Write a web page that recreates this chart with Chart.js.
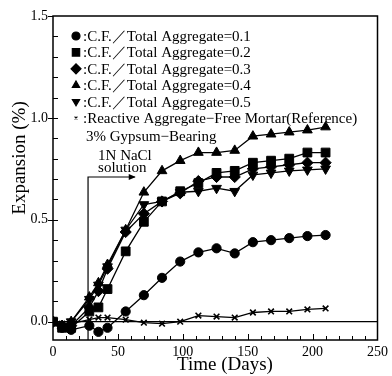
<!DOCTYPE html>
<html>
<head>
<meta charset="utf-8">
<script src="https://cdn.jsdelivr.net/npm/chart.js@4.4.0/dist/chart.umd.min.js"></script>
<style>
  html, body { margin: 0; padding: 0; background: #fff; }
  #wrap { width: 392px; height: 376px; }
</style>
</head>
<body>
<div id="wrap"><canvas id="expChart" width="392" height="376"></canvas></div>
<script>
const days = [0, 7, 14, 28, 35, 42, 56, 70, 84, 98, 112, 126, 140, 154, 168, 182, 196, 210];

const cf01 = [0, -0.03, -0.04, -0.02, -0.05, -0.03, 0.05, 0.13, 0.215, 0.295, 0.34, 0.36, 0.335, 0.39, 0.40, 0.41, 0.42, 0.425];
const cf02 = [0, -0.03, -0.03, 0.05, 0.07, 0.16, 0.345, 0.49, 0.59, 0.64, 0.68, 0.73, 0.74, 0.78, 0.79, 0.80, 0.83, 0.83];
const cf03 = [0, -0.02, -0.02, 0.07, 0.15, 0.26, 0.44, 0.53, 0.59, 0.63, 0.69, 0.71, 0.71, 0.75, 0.76, 0.77, 0.78, 0.78];
const cf04 = [0, -0.02, 0, 0.12, 0.19, 0.28, 0.45, 0.635, 0.74, 0.79, 0.83, 0.83, 0.84, 0.91, 0.92, 0.93, 0.94, 0.955];
const cf05 = [0, -0.02, 0, 0.11, 0.18, 0.27, 0.45, 0.575, 0.59, 0.635, 0.64, 0.655, 0.64, 0.72, 0.73, 0.74, 0.745, 0.75];
const refMortar = [0, -0.01, -0.01, 0.01, 0.02, 0.02, 0.01, -0.005, -0.01, 0, 0.03, 0.025, 0.02, 0.045, 0.05, 0.05, 0.06, 0.065];

const seriesLabels = [
    ':C.F.／Total Aggregate=0.1',
    ':C.F.／Total Aggregate=0.2',
    ':C.F.／Total Aggregate=0.3',
    ':C.F.／Total Aggregate=0.4',
    ':C.F.／Total Aggregate=0.5',
    ':Reactive Aggregate−Free Mortar(Reference)'
];
const noteText = '3% Gypsum−Bearing';
const naclText = ['1N NaCl', 'solution'];
const naclDay = 27;
const arrowEndDay = 63;
const arrowLevel = 0.71;

const yTicks = [0, 0.5, 1.0, 1.5];
const xTicks = [0, 50, 100, 150, 200, 250];

const serif = '"Liberation Serif", "Times New Roman", serif';

const styles = [
    { pointStyle: 'circle', radius: 4.6, rotation: 0 },
    { pointStyle: 'rect', radius: 6.2, rotation: 0 },
    { pointStyle: 'rectRot', radius: 5.6, rotation: 0 },
    { pointStyle: 'triangle', radius: 5.6, rotation: 0 },
    { pointStyle: 'triangle', radius: 5.6, rotation: 180 },
    { pointStyle: 'crossRot', radius: 4, rotation: 0 }
];
const legendRadius = [4, 5.2, 5, 4.2, 4.2, 2];

function makeSet(values, i) {
    return {
        label: seriesLabels[i],
        data: days.map((d, k) => ({ x: d, y: values[k] })),
        borderColor: '#000',
        backgroundColor: '#000',
        borderWidth: 1.3,
        pointStyle: styles[i].pointStyle,
        pointRotation: styles[i].rotation,
        pointRadius: styles[i].radius,
        pointBorderWidth: i === 5 ? 1.6 : 1,
        pointBorderColor: '#000',
        pointBackgroundColor: '#000',
        tension: 0
    };
}

const decorPlugin = {
    id: 'decor',
    afterDatasetsDraw(chart) {
        const ctx = chart.ctx;
        const a = chart.chartArea;
        const xs = chart.scales.x;
        const ys = chart.scales.y;
        ctx.save();
        ctx.strokeStyle = '#000';
        ctx.fillStyle = '#000';

        // frame
        ctx.lineWidth = 1.5;
        ctx.strokeRect(a.left, a.top, a.right - a.left, a.bottom - a.top);

        // zero line
        ctx.lineWidth = 1.2;
        const y0 = ys.getPixelForValue(0);
        ctx.beginPath();
        ctx.moveTo(a.left, y0);
        ctx.lineTo(a.right, y0);
        ctx.stroke();

        // minor ticks
        ctx.lineWidth = 1;
        for (let d = 10; d < 250; d += 10) {
            const px = Math.round(xs.getPixelForValue(d)) + 0.5;
            const len = d % 50 === 0 ? 6 : 4;
            ctx.beginPath();
            ctx.moveTo(px, a.bottom);
            ctx.lineTo(px, a.bottom - len);
            ctx.stroke();
        }
        for (let v = 0.1; v < 1.5; v += 0.1) {
            const py = Math.round(ys.getPixelForValue(v)) + 0.5;
            ctx.beginPath();
            ctx.moveTo(a.left, py);
            ctx.lineTo(a.left + 5, py);
            ctx.stroke();
        }
        yTicks.forEach(v => {
            const py = Math.round(ys.getPixelForValue(v)) + 0.5;
            ctx.beginPath();
            ctx.moveTo(a.left - 5, py);
            ctx.lineTo(a.left, py);
            ctx.stroke();
        });

        // NaCl marker line and arrow
        const xn = xs.getPixelForValue(naclDay);
        const ya = ys.getPixelForValue(arrowLevel);
        const xe = xs.getPixelForValue(arrowEndDay);
        ctx.lineWidth = 1.2;
        ctx.beginPath();
        ctx.moveTo(xn, a.bottom);
        ctx.lineTo(xn, ya);
        ctx.lineTo(xe, ya);
        ctx.stroke();
        ctx.beginPath();
        ctx.moveTo(xe + 1, ya);
        ctx.lineTo(xe - 6, ya - 3);
        ctx.lineTo(xe - 6, ya + 3);
        ctx.closePath();
        ctx.fill();

        ctx.font = '15px ' + serif;
        ctx.textAlign = 'left';
        ctx.textBaseline = 'alphabetic';
        ctx.fillText(naclText[0], xn + 10, ya - 17);
        ctx.fillText(naclText[1], xn + 10, ya - 5);

        // legend
        ctx.textBaseline = 'middle';
        ctx.font = '15px ' + serif;
        for (let i = 0; i < seriesLabels.length; i++) {
            const cy = a.top + 20 + i * 16.4;
            Chart.helpers.drawPoint(ctx, {
                pointStyle: styles[i].pointStyle,
                rotation: styles[i].rotation,
                radius: legendRadius[i],
                borderWidth: 1
            }, a.left + 23, cy);
            ctx.fillText(seriesLabels[i], a.left + 30, cy + 1);
        }
        ctx.fillText(noteText, a.left + 33, a.top + 121);

        // axis titles
        ctx.font = '19px ' + serif;
        ctx.textAlign = 'center';
        ctx.fillText('Time (Days)', 225, 365);
        ctx.translate(20, 158);
        ctx.rotate(-Math.PI / 2);
        ctx.fillText('Expansion (%)', 0, 0);
        ctx.restore();
    }
};

document.addEventListener('DOMContentLoaded', () => {
    const ctx = document.getElementById('expChart').getContext('2d');
    new Chart(ctx, {
        type: 'line',
        data: {
            datasets: [cf01, cf02, cf03, cf04, cf05, refMortar].map(makeSet)
        },
        options: {
            responsive: false,
            animation: false,
            layout: { padding: { top: 16, right: 13, left: 0, bottom: 0 } },
            plugins: {
                legend: { display: false },
                tooltip: { enabled: false }
            },
            scales: {
                x: {
                    type: 'linear',
                    min: 0,
                    max: 250,
                    afterBuildTicks: s => { s.ticks = xTicks.map(v => ({ value: v })); },
                    afterFit: s => { s.height = 36; },
                    grid: { display: false, drawTicks: false },
                    border: { display: false },
                    ticks: {
                        color: '#000',
                        padding: 4,
                        maxRotation: 0,
                        font: { family: serif, size: 14 },
                        callback: v => String(v)
                    }
                },
                y: {
                    type: 'linear',
                    min: -0.09,
                    max: 1.5,
                    afterBuildTicks: s => { s.ticks = yTicks.map(v => ({ value: v })); },
                    afterFit: s => { s.width = 53; },
                    grid: { display: false, drawTicks: false },
                    border: { display: false },
                    ticks: {
                        color: '#000',
                        padding: 5,
                        font: { family: serif, size: 14 },
                        callback: v => Number(v).toFixed(1)
                    }
                }
            }
        },
        plugins: [decorPlugin]
    });
});
</script>
</body>
</html>
